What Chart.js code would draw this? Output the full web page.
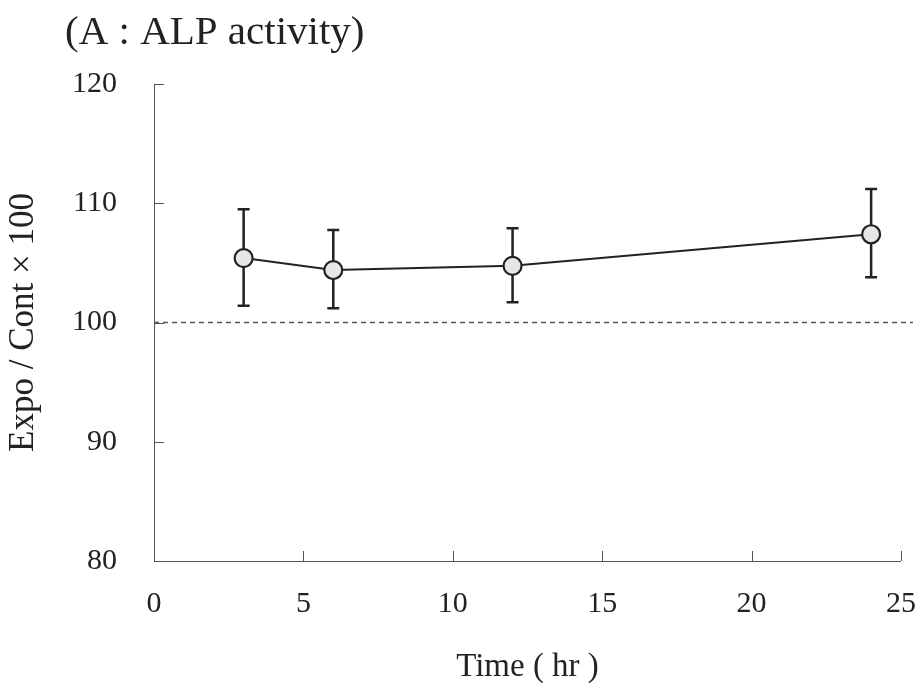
<!DOCTYPE html>
<html><head><meta charset="utf-8">
<script src="https://cdn.jsdelivr.net/npm/chart.js@4.4.0/dist/chart.umd.min.js"></script>
<style>html,body{margin:0;padding:0;background:#fff;}</style>
</head><body>
<canvas id="c" width="921" height="689"></canvas>
<script>
const timeHours = [3, 6, 12, 24];
const meanValues = [105.4, 104.4, 104.75, 107.4];
const errorUpper = [109.5, 107.75, 107.9, 111.2];
const errorLower = [101.4, 101.2, 101.7, 103.8];
const xTicks = [0, 5, 10, 15, 20, 25];
const yTicks = [80, 90, 100, 110, 120];
const referenceLevel = 100;
const referenceSpan = [0, 25.4];
const chartTitle = '(A : ALP activity)';
const xTitle = 'Time ( hr )';
const yTitle = 'Expo / Cont × 100';

const FONT = '"Liberation Serif", "DejaVu Serif", serif';
const INK = '#222';
const AXIS = '#555';

const errorBars = {
  id: 'errorBars',
  beforeDatasetsDraw(chart) {
    const {ctx, scales: {x, y}} = chart;
    ctx.save();
    ctx.strokeStyle = INK;
    ctx.lineWidth = 2.5;
    timeHours.forEach((t, i) => {
      const px = x.getPixelForValue(t);
      const top = y.getPixelForValue(errorUpper[i]);
      const bot = y.getPixelForValue(errorLower[i]);
      ctx.beginPath();
      ctx.moveTo(px, top); ctx.lineTo(px, bot);
      ctx.moveTo(px - 6, top); ctx.lineTo(px + 6, top);
      ctx.moveTo(px - 6, bot); ctx.lineTo(px + 6, bot);
      ctx.stroke();
    });
    ctx.restore();
  }
};

const axisDecor = {
  id: 'axisDecor',
  afterDraw(chart) {
    const {ctx, scales: {x, y}, chartArea} = chart;
    ctx.save();
    ctx.strokeStyle = AXIS;
    ctx.lineWidth = 1;
    ctx.beginPath();
    ctx.moveTo(chartArea.left + 0.5, chartArea.top);
    ctx.lineTo(chartArea.left + 0.5, chartArea.bottom + 0.5);
    ctx.lineTo(chartArea.right, chartArea.bottom + 0.5);
    xTicks.forEach(v => {
      const px = Math.round(x.getPixelForValue(v)) + 0.5;
      ctx.moveTo(px, chartArea.bottom); ctx.lineTo(px, chartArea.bottom - 10);
    });
    yTicks.forEach(v => {
      const py = Math.round(y.getPixelForValue(v)) + 0.5;
      ctx.moveTo(chartArea.left, py); ctx.lineTo(chartArea.left + 10, py);
    });
    ctx.stroke();
    ctx.fillStyle = INK;
    ctx.font = '41px ' + FONT;
    ctx.textAlign = 'left';
    ctx.textBaseline = 'alphabetic';
    ctx.fillText(chartTitle, 65, 44);
    ctx.restore();
  }
};

new Chart(document.getElementById('c'), {
  type: 'line',
  data: {
    datasets: [
      {
        label: 'reference',
        data: referenceSpan.map(v => ({x: v, y: referenceLevel})),
        borderColor: '#555',
        borderWidth: 1.5,
        borderDash: [5, 4],
        pointRadius: 0,
        clip: false,
        order: 2
      },
      {
        label: 'ALP activity',
        data: timeHours.map((t, i) => ({x: t, y: meanValues[i]})),
        borderColor: INK,
        borderWidth: 2,
        pointRadius: 9,
        pointBackgroundColor: '#e6e6e6',
        pointBorderColor: INK,
        pointBorderWidth: 2.2,
        tension: 0,
        order: 1
      }
    ]
  },
  options: {
    responsive: false,
    devicePixelRatio: 1,
    animation: false,
    layout: {padding: {top: 84, right: 0, left: 0, bottom: 0}},
    plugins: {legend: {display: false}, tooltip: {enabled: false}, title: {display: false}},
    scales: {
      x: {
        type: 'linear', min: 0, max: 25,
        afterBuildTicks: s => { s.ticks = xTicks.map(v => ({value: v})); },
        afterFit: s => { s.height = 128; s.paddingRight = 20; s.paddingLeft = 20; },
        grid: {display: false, drawTicks: false},
        border: {display: false},
        ticks: {padding: 25, color: INK, font: {family: FONT, size: 30}, maxRotation: 0},
        title: {display: true, text: xTitle, color: INK, font: {family: FONT, size: 33}, padding: {top: 0, bottom: 2}}
      },
      y: {
        type: 'linear', min: 80, max: 120,
        afterBuildTicks: s => { s.ticks = yTicks.map(v => ({value: v})); },
        afterFit: s => { s.width = 154; },
        grid: {display: false, drawTicks: false},
        border: {display: false},
        ticks: {padding: 37, color: INK, font: {family: FONT, size: 30}},
        title: {display: true, text: yTitle, color: INK, font: {family: FONT, size: 35}, padding: {top: 3, bottom: 0}}
      }
    }
  },
  plugins: [errorBars, axisDecor]
});
</script>
</body></html>
